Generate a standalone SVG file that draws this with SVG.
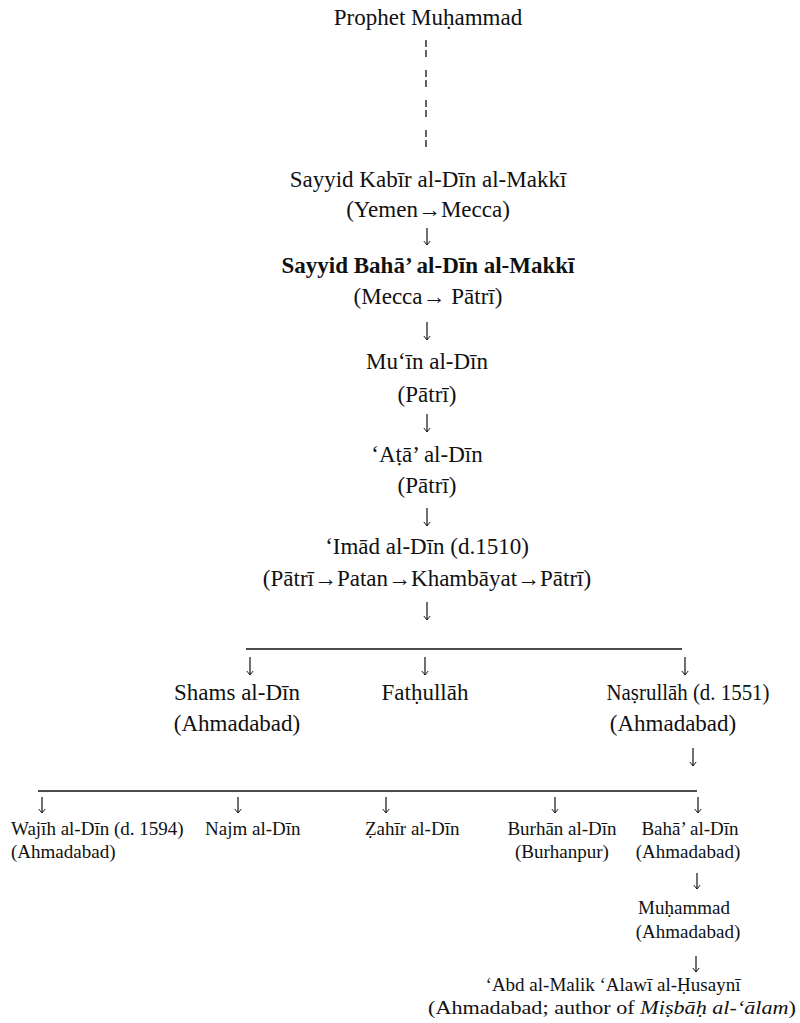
<svg xmlns="http://www.w3.org/2000/svg" width="800" height="1023" viewBox="0 0 800 1023">
<style>
text{font-family:'Liberation Serif','DejaVu Serif',serif;fill:#111;}
.t{font-size:23px;text-anchor:middle;}
.b{font-weight:bold;}
.s{font-size:19px;}
.sm{font-size:19px;text-anchor:middle;}
.ln{stroke:#111;stroke-width:1.3;fill:none;}
.ar{stroke:#111;stroke-width:1.2;fill:none;marker-end:url(#ah);}
</style>
<defs>
<marker id="ah" viewBox="0 0 10 10" refX="9" refY="5" markerWidth="8" markerHeight="8" markerUnits="userSpaceOnUse" orient="auto">
<path d="M4,1 L9,5 L4,9" fill="none" stroke="#111" stroke-width="1.2"/>
</marker>
</defs>
<rect width="800" height="1023" fill="#fff"/>
<g id="connectors">
<line class="ln" x1="426" y1="40" x2="426" y2="155" stroke-dasharray="7 3 7 13"/>
<line class="ar" x1="427" y1="228" x2="427" y2="245"/>
<line class="ar" x1="427" y1="322" x2="427" y2="340"/>
<line class="ar" x1="427" y1="414" x2="427" y2="432"/>
<line class="ar" x1="427" y1="508" x2="427" y2="526"/>
<line class="ar" x1="427" y1="602" x2="427" y2="620"/>
<line class="ln" x1="246" y1="649" x2="682" y2="649"/>
<line class="ar" x1="250" y1="657" x2="250" y2="675"/>
<line class="ar" x1="425" y1="657" x2="425" y2="675"/>
<line class="ar" x1="685" y1="657" x2="685" y2="675"/>
<line class="ar" x1="693" y1="748" x2="693" y2="766"/>
<line class="ln" x1="38" y1="791" x2="697" y2="791"/>
<line class="ar" x1="42" y1="797" x2="42" y2="813"/>
<line class="ar" x1="238" y1="797" x2="238" y2="813"/>
<line class="ar" x1="386" y1="797" x2="386" y2="813"/>
<line class="ar" x1="555" y1="797" x2="555" y2="813"/>
<line class="ar" x1="698" y1="797" x2="698" y2="813"/>
<line class="ar" x1="697" y1="873" x2="697" y2="889"/>
<line class="ar" x1="696" y1="956" x2="696" y2="972"/>
</g>
<g id="n1"><text class="t" x="428" y="25">Prophet Muḥammad</text></g>
<g id="n2"><text class="t" x="428" y="187">Sayyid Kabīr al-Dīn al-Makkī</text><text class="t" x="428" y="217">(Yemen→Mecca)</text></g>
<g id="n3"><text class="t b" x="428" y="273">Sayyid Bahā’ al-Dīn al-Makkī</text><text class="t" x="428" y="304">(Mecca→ Pātrī)</text></g>
<g id="n4"><text class="t" x="427" y="369">Mu‘īn al-Dīn</text><text class="t" x="427" y="402">(Pātrī)</text></g>
<g id="n5"><text class="t" x="427" y="462">‘Aṭā’ al-Dīn</text><text class="t" x="427" y="493">(Pātrī)</text></g>
<g id="n6"><text class="t" x="427" y="554">‘Imād al-Dīn (d.1510)</text><text class="t" x="427" y="586">(Pātrī→Patan→Khambāyat→Pātrī)</text></g>
<g id="n7"><text class="t" x="237" y="700">Shams al-Dīn</text><text class="t" x="237" y="731">(Ahmadabad)</text></g>
<g id="n8"><text class="t" x="425" y="700">Fatḥullāh</text></g>
<g id="n9"><text class="t" x="688" y="700" textLength="163" lengthAdjust="spacingAndGlyphs">Naṣrullāh (d. 1551)</text><text class="t" x="673" y="731">(Ahmadabad)</text></g>
<g id="n10"><text class="s" x="11" y="835">Wajīh al-Dīn (d. 1594)</text><text class="s" x="11" y="858">(Ahmadabad)</text></g>
<g id="n11"><text class="s" x="205" y="835">Najm al-Dīn</text></g>
<g id="n12"><text class="s" x="365" y="835">Ẓahīr al-Dīn</text></g>
<g id="n13"><text class="sm" x="562" y="835">Burhān al-Dīn</text><text class="sm" x="562" y="858">(Burhanpur)</text></g>
<g id="n14"><text class="sm" x="690" y="835">Bahā’ al-Dīn</text><text class="sm" x="688" y="858">(Ahmadabad)</text></g>
<g id="n15"><text class="sm" x="684" y="914">Muḥammad</text><text class="sm" x="688" y="938">(Ahmadabad)</text></g>
<g id="n16"><text class="sm" x="613" y="991">‘Abd al-Malik ‘Alawī al-Ḥusaynī</text><text class="sm" x="612" y="1014" font-size="21" textLength="368" lengthAdjust="spacingAndGlyphs">(Ahmadabad; author of <tspan font-style="italic">Miṣbāḥ al-‘ālam</tspan>)</text></g>
</svg>
